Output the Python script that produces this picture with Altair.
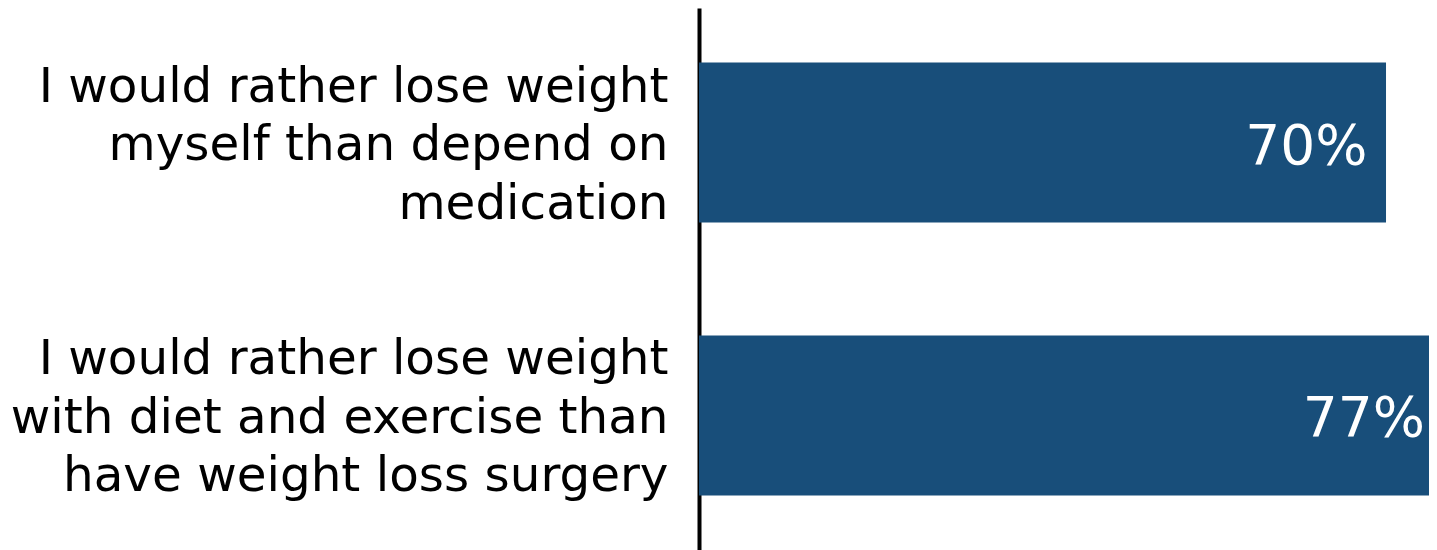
import altair as alt
import pandas as pd

statements = [
    "I would rather lose weight|myself than depend on|medication",
    "I would rather lose weight|with diet and exercise than|have weight loss surgery",
]
values = [70, 77]
value_labels = ["70%", "77%"]

df = pd.DataFrame({"statement": statements, "value": values, "label": value_labels})

FONT = "DejaVu Sans"
BAR = "#184E7A"

y_enc = alt.Y(
    "statement:N",
    sort=statements,
    title=None,
    scale=alt.Scale(paddingInner=0.414, paddingOuter=0.2),
    axis=alt.Axis(
        labelExpr="split(datum.label, '|')",
        labelFont=FONT,
        labelFontSize=48.4,
        labelColor="black",
        labelLineHeight=58.5,
        labelLimit=1000,
        labelPadding=31,
        labelOffset=-56,
        ticks=False,
        tickSize=0,
        domainColor="black",
        domainWidth=4,
        grid=False,
        labelAlign="right",
        labelBaseline="middle",
    ),
)

bars = alt.Chart(df).mark_bar(color=BAR).encode(
    x=alt.X("value:Q", scale=alt.Scale(domain=[0, 74.38], nice=False, zero=True), axis=None),
    y=y_enc,
)

# value labels: own scale so the clipped bar's label stays fully visible
texts = alt.Chart(df).mark_text(
    align="right",
    baseline="middle",
    dy=4,
    color="white",
    font=FONT,
    fontSize=55,
).encode(
    x=alt.X("value:Q", scale=alt.Scale(domain=[-11.38, 77.49], nice=False, zero=False), axis=None),
    y=alt.Y("statement:N", sort=statements),
    text="label:N",
)

chart = (
    alt.layer(bars, texts, view=alt.ViewBackground(strokeOpacity=0, strokeWidth=0))
    .resolve_scale(x="independent")
    .properties(
        width=730,
        height=542,
        autosize=alt.AutoSizeParams(type="none"),
        padding={"left": 691, "top": 0, "right": 0, "bottom": 0},
    )
    .configure_view(stroke=None, strokeWidth=0, strokeOpacity=0)
    .configure_axisX(domain=False, grid=False, ticks=False, labels=False)
    .configure(background="white")
)

chart.save("out.html", embed_options={"renderer": "svg", "actions": False})
